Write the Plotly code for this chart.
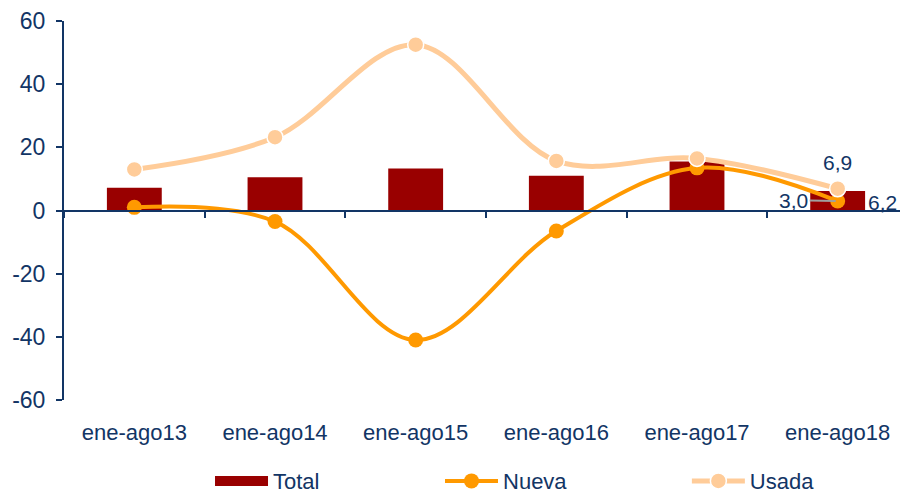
import plotly.graph_objects as go

categories = ["ene-ago13", "ene-ago14", "ene-ago15", "ene-ago16", "ene-ago17", "ene-ago18"]
total = [7.2, 10.5, 13.3, 11.0, 15.5, 6.2]
nueva = [1.0, -3.5, -41.0, -6.5, 13.5, 3.0]
usada = [13.0, 23.2, 52.5, 15.7, 16.5, 6.9]
y_ticks = [60, 40, 20, 0, -20, -40, -60]
y_ticktext = [str(v) for v in y_ticks]

NAVY = "#123565"
RED = "#990000"
ORANGE = "#FF9900"
PEACH = "#FFCC99"
FONT = "Liberation Sans, Arial, sans-serif"

def fmt(v):
    return f"{v:.1f}".replace(".", ",")

fig = go.Figure()
fig.add_trace(go.Bar(
    x=categories, y=total, name="Total", legendgroup="total", showlegend=False,
    marker=dict(color=RED, line=dict(width=0)),
    width=0.39,
))
# legend proxy for the bars (wide rectangle swatch)
fig.add_trace(go.Scatter(
    x=[categories[0]], y=[None], name="Total", legendgroup="total", mode="lines",
    line=dict(color=RED, width=14), hoverinfo="skip", legend="legend",
))
fig.add_trace(go.Scatter(
    x=categories, y=nueva, name="Nueva", mode="lines+markers",
    line=dict(color=ORANGE, width=4, shape="spline", smoothing=1.0),
    marker=dict(color=ORANGE, size=15), legend="legend2",
))
fig.add_trace(go.Scatter(
    x=categories, y=usada, name="Usada", mode="lines+markers",
    line=dict(color=PEACH, width=5, shape="spline", smoothing=1.0),
    marker=dict(color=PEACH, size=16, line=dict(color="white", width=1.5)),
    legend="legend3",
))
# helper trace for the zero-crossing axis with boundary ticks
fig.add_trace(go.Scatter(
    x=categories, y=[None] * len(categories), xaxis="x2", showlegend=False,
    hoverinfo="skip",
))

last = categories[-1]
fig.add_annotation(x=last, y=usada[-1], text=fmt(usada[-1]), showarrow=False,
                   yshift=26, font=dict(size=21, color=NAVY, family=FONT))
fig.add_annotation(x=last, y=total[-1], text=fmt(total[-1]), showarrow=False,
                   xshift=45, yshift=-12, font=dict(size=21, color=NAVY, family=FONT))
fig.add_annotation(x=last, y=nueva[-1], text=fmt(nueva[-1]), showarrow=True,
                   arrowhead=0, arrowcolor="#A0A0A0", arrowwidth=2,
                   ax=-44, ay=-1, standoff=2,
                   font=dict(size=21, color=NAVY, family=FONT))

leg_common = dict(orientation="h", xanchor="left", y=-0.214, yanchor="middle",
                  font=dict(size=22, color=NAVY, family=FONT), itemwidth=53,
                  bgcolor="rgba(0,0,0,0)")

fig.update_layout(
    width=900, height=488,
    margin=dict(l=56, r=0, t=13, b=96, autoexpand=False),
    paper_bgcolor="white", plot_bgcolor="white",
    font=dict(family=FONT, color=NAVY, size=19),
    showlegend=True,
    legend=dict(x=0.173, **leg_common),
    legend2=dict(x=0.4455, **leg_common),
    legend3=dict(x=0.738, **leg_common),
    bargap=0.6,
    xaxis=dict(type="category", categoryarray=categories, range=[-0.5, 5.5],
               showline=False, ticks="", showgrid=False, zeroline=False,
               ticklabelstandoff=17, tickfont=dict(size=22, color=NAVY)),
    xaxis2=dict(type="category", categoryarray=categories, range=[-0.5, 5.5],
                overlaying="x", anchor="free", position=0.5, side="bottom",
                showline=True, linecolor=NAVY, linewidth=2,
                ticks="outside", tickson="boundaries", ticklen=6, tickwidth=2,
                tickcolor=NAVY, showticklabels=False, showgrid=False, zeroline=False),
    yaxis=dict(range=[-60, 60], tickvals=y_ticks, ticktext=y_ticktext,
               showgrid=False, zeroline=False,
               showline=True, linecolor=NAVY, linewidth=2,
               ticks="outside", ticklen=6, tickwidth=2, tickcolor=NAVY,
               ticklabelstandoff=6,
               tickfont=dict(size=23, color=NAVY)),
)

fig.write_html("out.html")
